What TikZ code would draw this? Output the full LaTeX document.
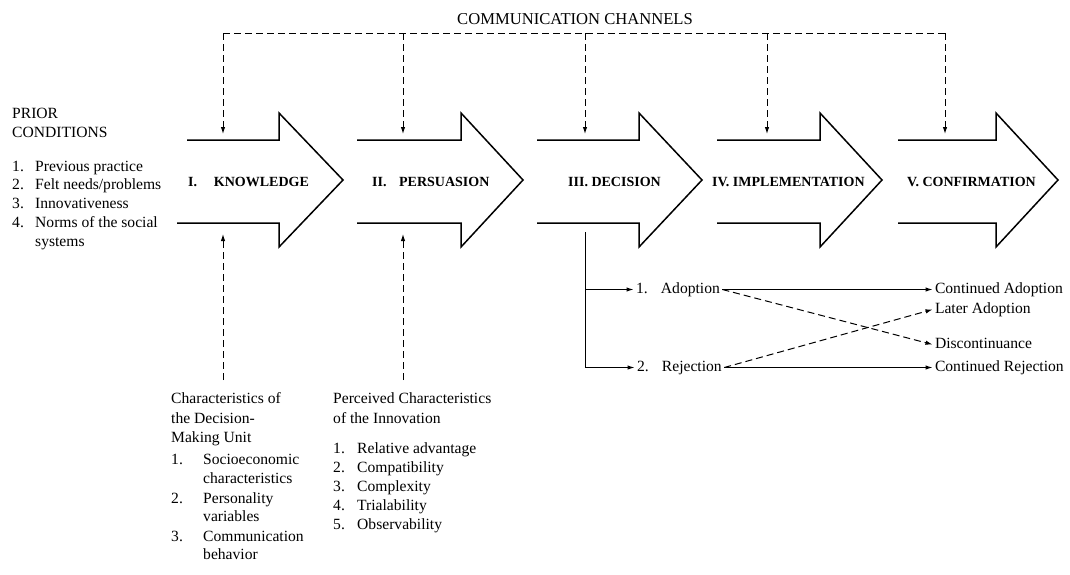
\documentclass[tikz,border=0pt]{standalone}
\usepackage{fontspec}
\setmainfont{Liberation Serif}
\usetikzlibrary{arrows.meta}
\begin{document}
\begin{tikzpicture}[x=1pt,y=-1pt,
  body/.style={anchor=base west,inner sep=0pt,font=\fontsize{15.6}{19}\selectfont},
  brtxt/.style={body,text height=10pt,text depth=3pt,outer sep=2.5pt},
  stagelbl/.style={anchor=base west,inner sep=0pt,font=\fontsize{14}{17}\selectfont\bfseries},
  bigarr/.style={draw,line width=1.5pt,line join=miter,miter limit=10},
  chan/.style={line width=1pt,dash pattern=on 7pt off 4pt},
  tip/.style={-{Latex[length=7pt,width=4.5pt]}},
  solidln/.style={line width=1pt},
]
\useasboundingbox (0,0) rectangle (1070,574);

% ---- stage arrows (open on the left)
\draw[bigarr] (187,140) -- (279,140) -- (279,113) -- (343,180) -- (279,247) -- (279,223) -- (177,223);
\draw[bigarr] (357,140) -- (461,140) -- (461,113) -- (523,180) -- (461,247) -- (461,223) -- (357,223);
\draw[bigarr] (537,140) -- (639,140) -- (639,113) -- (702,180) -- (639,247) -- (639,223) -- (537,223);
\draw[bigarr] (717,140) -- (820,140) -- (820,113) -- (882,180) -- (820,247) -- (820,223) -- (717,223);
\draw[bigarr] (898,140) -- (996,140) -- (996,113) -- (1058,180) -- (996,247) -- (996,223) -- (898,223);

% ---- stage labels
\node[stagelbl] (s1) at (188,186) {I.\hspace{1.2em}KNOWLEDGE};
\node[stagelbl] (s2) at (372,186) {II.\hspace{0.9em}PERSUASION};
\node[stagelbl] (s3) at (568,186) {III. DECISION};
\node[stagelbl] (s4) at (712,186) {IV. IMPLEMENTATION};
\node[stagelbl] (s5) at (907,186) {V. CONFIRMATION};

% ---- communication channels
\node[body,font=\fontsize{16.6}{19}\selectfont] (cc) at (457,24) {COMMUNICATION CHANNELS};
\coordinate (c1) at (223,33);
\coordinate (c2) at (403,33);
\coordinate (c3) at (585,33);
\coordinate (c4) at (767,33);
\coordinate (c5) at (945,33);
\coordinate (k-in) at (223,134);
\coordinate (p-in) at (403,134);
\coordinate (d-in) at (585,134);
\coordinate (i-in) at (767,134);
\coordinate (f-in) at (945,134);
\draw[chan] (c1) -- (c5);
\draw[chan,tip] (c1) -- (k-in);
\draw[chan,tip] (c2) -- (p-in);
\draw[chan,tip] (c3) -- (d-in);
\draw[chan,tip] (c4) -- (i-in);
\draw[chan,tip] (c5) -- (f-in);

% ---- prior conditions
\node[body] (pc1) at (12,118) {PRIOR};
\node[body] (pc2) at (12,137) {CONDITIONS};
\node[body] (pc3) at (12,171) {\makebox[23pt][l]{1.}Previous practice};
\node[body] (pc4) at (12,189) {\makebox[23pt][l]{2.}Felt needs/problems};
\node[body] (pc5) at (12,208) {\makebox[23pt][l]{3.}Innovativeness};
\node[body] (pc6) at (12,227) {\makebox[23pt][l]{4.}Norms of the social};
\node[body] (pc7) at (35,246) {systems};

% ---- characteristics of the decision-making unit
\node[body] (du1) at (171,403) {Characteristics of};
\node[body] (du2) at (171,423) {the Decision-};
\node[body] (du3) at (171,442) {Making Unit};
\node[body] (du4) at (171,464) {\makebox[32pt][l]{1.}Socioeconomic};
\node[body] (du5) at (203,483) {characteristics};
\node[body] (du6) at (171,503) {\makebox[32pt][l]{2.}Personality};
\node[body] (du7) at (203,521) {variables};
\node[body] (du8) at (171,541) {\makebox[32pt][l]{3.}Communication};
\node[body] (du9) at (203,559) {behavior};

% ---- perceived characteristics of the innovation
\node[body] (pi1) at (333,403) {Perceived Characteristics};
\node[body] (pi2) at (333,423) {of the Innovation};
\node[body] (pi3) at (333,453) {\makebox[24pt][l]{1.}Relative advantage};
\node[body] (pi4) at (333,472) {\makebox[24pt][l]{2.}Compatibility};
\node[body] (pi5) at (333,491) {\makebox[24pt][l]{3.}Complexity};
\node[body] (pi6) at (333,510) {\makebox[24pt][l]{4.}Trialability};
\node[body] (pi7) at (333,529) {\makebox[24pt][l]{5.}Observability};

\coordinate (k-up) at (223,234);
\coordinate (p-up) at (403,234);
\coordinate (k-ch) at (223,380);
\coordinate (p-ch) at (403,380);
\draw[chan,tip] (k-ch) -- (k-up);
\draw[chan,tip] (p-ch) -- (p-up);

% ---- decision outcomes
\node[brtxt] (adopt) at (633.5,293) {1.\hspace{0.85em}Adoption};
\node[brtxt] (reject) at (634.5,371) {2.\hspace{0.85em}Rejection};
\node[brtxt] (cadopt) at (932.5,293) {Continued Adoption};
\node[brtxt] (later) at (932.5,313) {Later Adoption};
\node[brtxt] (disc) at (932.5,348) {Discontinuance};
\node[brtxt] (crej) at (932.5,371) {Continued Rejection};

\coordinate (d-out) at (585,232);
\coordinate (d-a) at (585,289.5);
\coordinate (d-r) at (585,367.5);
\draw[solidln] (d-out) -- (d-r);
\draw[solidln,tip] (d-a) -- (adopt.west);
\draw[solidln,tip] (d-r) -- (reject.west);
\draw[solidln,tip] (adopt.east) -- (cadopt.west);
\draw[solidln,tip] (reject.east) -- (crej.west);
\draw[chan,tip] (adopt.east) -- (disc.west);
\draw[chan,tip] (reject.east) -- (later.west);
\end{tikzpicture}
\end{document}
